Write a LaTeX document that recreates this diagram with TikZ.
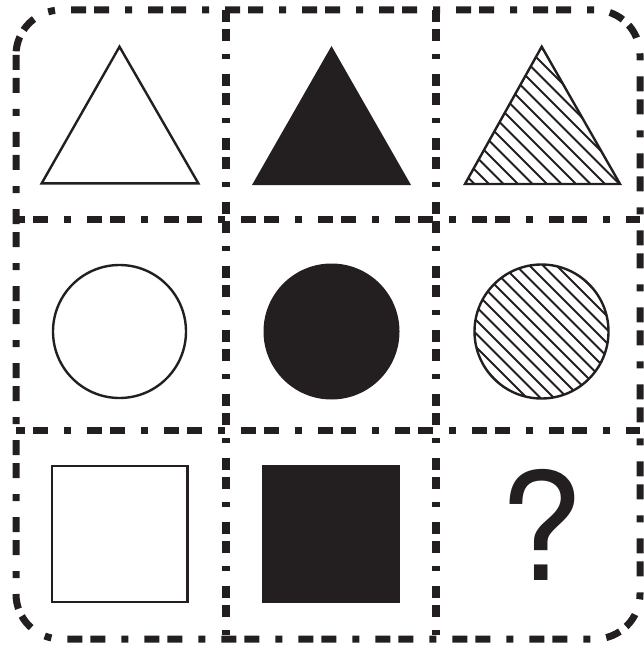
\documentclass[tikz,border=0pt]{standalone}
\usepackage{fontspec}
\setmainfont{TeX Gyre Heros}
\definecolor{ink}{RGB}{35,31,32}
\tikzset{
  hdash/.style={draw=ink, line width=7pt, dash pattern=on 15pt off 8pt on 15pt off 16pt on 7pt off 16pt},
  vdash/.style={draw=ink, line width=7.5pt, dash pattern=on 12pt off 7pt on 12pt off 13pt on 5pt off 15pt},
  shapeline/.style={draw=ink, line width=2.4pt, line join=miter},
  solid fill/.style={fill=ink, draw=none},
  hatch/.style={draw=ink, line width=2pt},
}
\begin{document}
\begin{tikzpicture}[x=1pt,y=-1pt]
\useasboundingbox (0,0) rectangle (644,647);
% grid lines
\draw[vdash] (226,10) -- (226,639);
\draw[vdash] (436,10) -- (436,639);
\draw[hdash, dash phase=6pt] (16,219) -- (640,219);
\draw[hdash, dash phase=6pt] (16,430) -- (640,430);
% outer frame
\draw[hdash, rounded corners=45pt] (16,10) rectangle (640,639);
% row 1: triangles
\draw[shapeline] (41.7,183.3) -- (198.3,183.3) -- (119.5,46.7) -- cycle;
\fill[ink] (252,185) -- (411,185) -- (331.5,46) -- cycle;
\begin{scope}
  \clip (465,184) -- (620,184) -- (541.7,46.7) -- cycle;
  \foreach \k in {-14,...,14}
    \draw[hatch, shift={(541+\k*14.5,120)}] (-120,-120) -- (120,120);
\end{scope}
\draw[shapeline] (465,184) -- (620,184) -- (541.7,46.7) -- cycle;
% row 2: circles
\draw[shapeline] (119.5,331.5) circle[radius=66.5];
\fill[ink] (331.5,331.5) circle[radius=68];
\begin{scope}
  \clip (541.5,331.5) circle[radius=67];
  \foreach \k in {-12,...,12}
    \draw[hatch, shift={(541.5+\k*13.5,331.5)}] (-120,-120) -- (120,120);
\end{scope}
\draw[shapeline] (541.5,331.5) circle[radius=67];
% row 3: squares and question mark
\draw[shapeline] (52,466) rectangle (187.5,602);
\fill[ink] (262,465) rectangle (400,603);
\node[text=ink, font=\fontsize{150}{150}\selectfont, anchor=base, inner sep=0pt] (q) at (541.5,580) {?};
\end{tikzpicture}
\end{document}
